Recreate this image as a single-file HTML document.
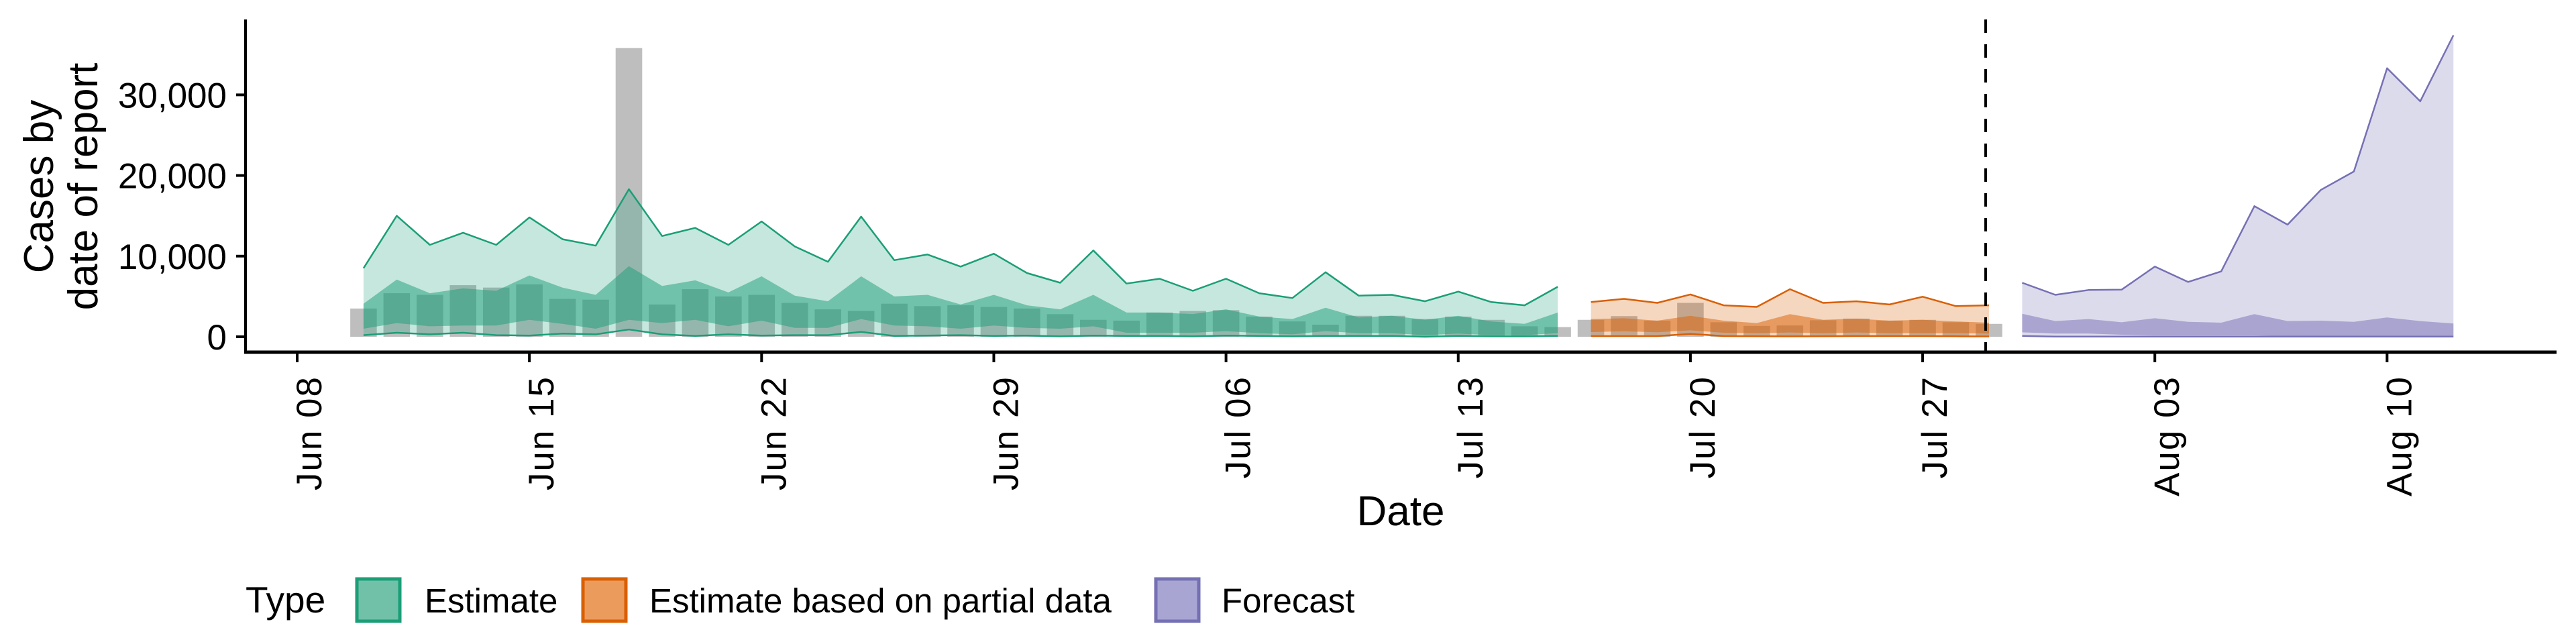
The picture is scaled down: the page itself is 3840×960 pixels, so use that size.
<!DOCTYPE html>
<html><head><meta charset="utf-8"><style>
html,body{margin:0;padding:0;background:#fff;}
svg{display:block;font-family:"Liberation Sans",sans-serif;}
</style></head><body>
<svg id="chart" width="3840" height="960" viewBox="0 0 3840 960" xmlns="http://www.w3.org/2000/svg"></svg>
<script>
// ---- data (values in thousands of cases) ----
const reportDays = [2,3,4,5,6,7,8,9,10,11,12,13,14,15,16,17,18,19,20,21,22,23,24,25,26,27,28,29,30,31,32,33,34,35,36,37,38,39,40,41,42,43,44,45,46,47,48,49,50,51];
const reportedCases = [3.5,5.4,5.2,6.4,6.1,6.5,4.7,4.6,35.8,4.0,5.9,5.0,5.2,4.2,3.4,3.2,4.1,3.8,3.9,3.7,3.5,2.8,2.1,2.0,3.0,3.2,3.3,2.5,1.9,1.5,2.6,2.6,2.2,2.5,2.1,1.3,1.2,2.1,2.56,2.0,4.2,1.8,1.35,1.4,2.05,2.25,2.0,2.1,1.8,1.6];

const estDays = [2,3,4,5,6,7,8,9,10,11,12,13,14,15,16,17,18,19,20,21,22,23,24,25,26,27,28,29,30,31,32,33,34,35,36,37,38];
const estUpper90 = [8.5,15.0,11.4,12.9,11.4,14.8,12.1,11.3,18.3,12.5,13.5,11.4,14.3,11.2,9.3,14.9,9.5,10.2,8.7,10.3,7.9,6.7,10.7,6.6,7.2,5.7,7.2,5.4,4.8,8.0,5.1,5.2,4.4,5.6,4.3,3.9,6.2];
const estUpper50 = [4.1,7.1,5.4,6.0,5.7,7.6,6.1,5.2,8.75,6.3,7.0,5.5,7.5,5.1,4.4,7.5,5.0,5.2,4.0,5.2,3.9,3.4,5.2,3.0,3.0,2.8,3.4,2.5,2.2,3.6,2.4,2.6,2.1,2.6,1.9,1.6,3.0];
const estLower50 = [1.0,1.7,1.3,1.4,1.4,2.1,1.6,1.0,2.1,1.7,2.1,1.3,2.0,1.1,1.1,2.2,1.4,1.3,1.0,1.4,1.1,1.0,1.3,0.5,0.5,0.5,0.7,0.45,0.3,0.7,0.45,0.45,0.2,0.4,0.2,0.2,0.45];
const estLower90 = [0.2,0.5,0.3,0.5,0.2,0.15,0.4,0.3,0.9,0.3,0.1,0.3,0.15,0.2,0.2,0.6,0.1,0.15,0.2,0.1,0.15,0.05,0.15,0.1,0.1,0.05,0.15,0.1,0.05,0.1,0.1,0.1,0.0,0.1,0.05,0.05,0.1];

const partDays = [39,40,41,42,43,44,45,46,47,48,49,50,51];
const partUpper90 = [4.3,4.7,4.2,5.25,3.9,3.7,5.9,4.2,4.4,4.0,4.97,3.8,3.9];
const partUpper50 = [2.2,2.3,2.0,2.6,2.0,1.7,2.8,2.1,2.25,2.0,2.1,1.9,1.75];
const partLower50 = [0.58,0.67,0.56,0.8,0.5,0.45,0.53,0.45,0.53,0.45,0.45,0.45,0.4];
const partLower90 = [0.08,0.08,0.08,0.36,0.08,0.06,0.05,0.06,0.08,0.08,0.08,0.06,0.04];

const fcDays = [52,53,54,55,56,57,58,59,60,61,62,63,64,65];
const fcUpper90 = [6.7,5.2,5.8,5.85,8.7,6.8,8.1,16.2,13.9,18.2,20.5,33.3,29.2,37.4];
const fcUpper50 = [2.85,1.95,2.2,1.8,2.3,1.85,1.75,2.8,1.95,2.0,1.85,2.4,1.95,1.65];
const fcLower50 = [0.55,0.4,0.4,0.25,0.17,0.17,0.17,0.17,0.08,0.08,0.08,0.08,0.08,0.08];
const fcLower90 = [0.1,0.02,0.02,0.02,0.02,0.02,0.02,0.02,0.02,0.02,0.02,0.02,0.02,0.02];

const yTicks = [0,10,20,30];
const yTickLabels = ["0","10,000","20,000","30,000"];
const xTickDays = [0,7,14,21,28,35,42,49,56,63];
const xTickLabels = ["Jun 08","Jun 15","Jun 22","Jun 29","Jul 06","Jul 13","Jul 20","Jul 27","Aug 03","Aug 10"];
const forecastStartDay = 50.9;

// ---- scales ----
const X0 = 443, PX_DAY = 49.45, Y0 = 502, PX_K = 12.02;
function xs(d){ return X0 + d*PX_DAY; }
function ys(v){ return Y0 - v*PX_K; }

const svg = document.getElementById('chart');
const NS = 'http://www.w3.org/2000/svg';
function mk(tag, attrs, parent){
  const e = document.createElementNS(NS, tag);
  for (const k in attrs) e.setAttribute(k, attrs[k]);
  (parent||svg).appendChild(e);
  return e;
}

// bars
const barG = mk('g', {});


reportDays.forEach((d,i)=>{
  const w = 0.8*PX_DAY;
  const r = mk('rect', {x: xs(d)-w/2, y: ys(reportedCases[i]), width: w, height: Y0-ys(reportedCases[i]), fill:'#bebebe'}, barG);
  
  
});

function band(days, lo, hi, color, op, name){
  let p = days.map((d,i)=>(i?'L':'M')+xs(d).toFixed(1)+','+ys(hi[i]).toFixed(1)).join('');
  for (let i=days.length-1;i>=0;i--) p += 'L'+xs(days[i]).toFixed(1)+','+ys(lo[i]).toFixed(1);
  const e = mk('path', {d: p+'Z', fill: color, 'fill-opacity': op});
  
  
}
function line(days, v, color, w, name){
  const p = days.map((d,i)=>(i?'L':'M')+xs(d).toFixed(1)+','+ys(v[i]).toFixed(1)).join('');
  const e = mk('path', {d: p, fill:'none', stroke: color, 'stroke-width': w, 'stroke-linejoin':'round'});
  
  
}
const series = [
  [estDays, estLower90, estUpper90, estLower50, estUpper50, '#1b9e77', 'estimate'],
  [partDays, partLower90, partUpper90, partLower50, partUpper50, '#d95f02', 'partial-estimate'],
  [fcDays, fcLower90, fcUpper90, fcLower50, fcUpper50, '#7570b3', 'forecast']
];
series.forEach(s=>{
  band(s[0], s[1], s[2], s[5], 0.25, s[6]+'-band-90');
  band(s[0], s[3], s[4], s[5], 0.5, s[6]+'-band-50');
  line(s[0], s[2], s[5], 2.5, s[6]+'-upper-line');
  line(s[0], s[1], s[5], 2.5, s[6]+'-lower-line');
});

// forecast divider
const dl = mk('line', {x1: xs(forecastStartDay), x2: xs(forecastStartDay), y1: 29, y2: 525, stroke:'#000', 'stroke-width':4, 'stroke-dasharray':'20,17'});



// axes
const ax = mk('g', {});


mk('line', {x1:366, x2:366, y1:29, y2:527, stroke:'#000', 'stroke-width':4}, ax);
mk('line', {x1:364, x2:3811, y1:525, y2:525, stroke:'#000', 'stroke-width':5}, ax);
yTicks.forEach((v,i)=>{
  mk('line', {x1:352, x2:366, y1:ys(v), y2:ys(v), stroke:'#000', 'stroke-width':4}, ax);
  const t = mk('text', {x:338, y:ys(v)+19, 'text-anchor':'end', 'font-size':53, fill:'#000'}, ax);
  t.textContent = yTickLabels[i];
  
  
});
xTickDays.forEach((d,i)=>{
  const x = xs(d);
  mk('line', {x1:x, x2:x, y1:525, y2:540, stroke:'#000', 'stroke-width':4}, ax);
  const t = mk('text', {x:0, y:0, 'text-anchor':'end', 'font-size':53, fill:'#000', transform:'translate('+(x+36)+',560) rotate(-90)', 'letter-spacing':'2'}, ax);
  t.textContent = xTickLabels[i];
  
  
});
</script>
<svg style="position:absolute;left:0;top:0" width="3840" height="960">
  <g font-family="Liberation Sans, sans-serif" fill="#000">
    <text transform="translate(79,278) rotate(-90)" text-anchor="middle" font-size="62">Cases by</text>
    <text transform="translate(145,278) rotate(-90)" text-anchor="middle" font-size="62">date of report</text>
    <text x="2088" y="783" text-anchor="middle" font-size="62">Date</text>
    <text x="366" y="913" font-size="55">Type</text>
    <rect x="532" y="863" width="64" height="63" fill="#70c1a8" stroke="#1b9e77" stroke-width="5"/>
    <text x="633" y="913" font-size="51">Estimate</text>
    <rect x="869" y="863" width="64" height="63" fill="#eb9b5c" stroke="#d95f02" stroke-width="5"/>
    <text x="968" y="913" font-size="51">Estimate based on partial data</text>
    <rect x="1723" y="863" width="64" height="63" fill="#a8a5d3" stroke="#7570b3" stroke-width="5"/>
    <text x="1821" y="913" font-size="51">Forecast</text>
  </g>
</svg>
</body></html>
